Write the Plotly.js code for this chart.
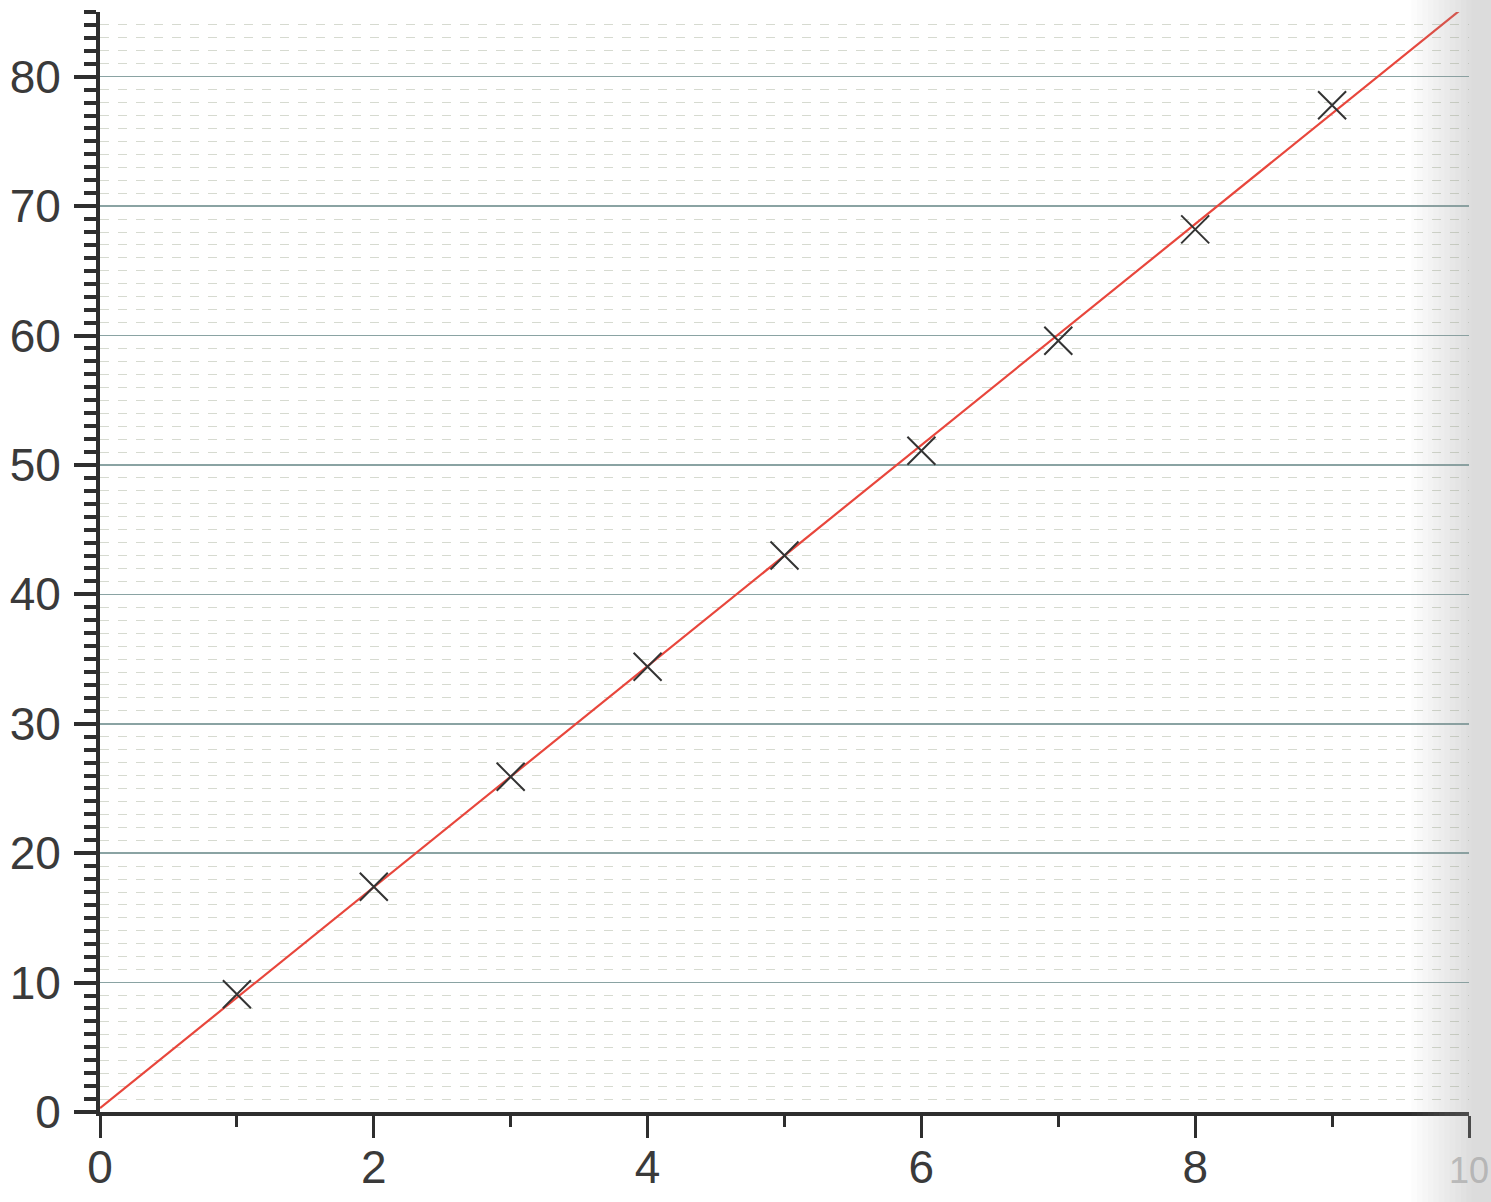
<!DOCTYPE html>
<html>
<head>
<meta charset="utf-8">
<script src="https://cdn.plot.ly/plotly-3.0.1.min.js"></script>
<style>
html,body{margin:0;padding:0;background:#fff;}
#chart{width:1491px;height:1202px;}
</style>
</head>
<body>
<div id="chart"></div>
<script>
// Measured points
const xPoints = [1, 2, 3, 4, 5, 6, 7, 8, 9];
const yPoints = [9.1, 17.4, 25.9, 34.4, 43.0, 51.1, 59.6, 68.2, 77.8];
// Fitted line endpoints
const lineX = [0, 9.93];
const lineY = [0.3, 85.1];
// Tick labels
const xTickVals = [0, 2, 4, 6, 8, 10];
const xTickText = ['0', '2', '4', '6', '8', '<span style="color:#c4c4c4;font-size:36px">10</span>'];
const yTickVals = [0, 10, 20, 30, 40, 50, 60, 70, 80];

const axisColor = '#2e2e2e';
const fontSpec = {family: 'Liberation Sans, Arial, sans-serif', size: 46, color: '#3a3a3a'};

const traces = [
  {
    x: lineX, y: lineY, mode: 'lines', type: 'scatter',
    line: {color: '#e8463c', width: 2.2},
    hoverinfo: 'skip', showlegend: false, cliponaxis: true
  },
  {
    x: xPoints, y: yPoints, mode: 'markers', type: 'scatter',
    marker: {symbol: 'x-thin-open', size: 28, color: '#333333', line: {color: '#333333', width: 2}},
    showlegend: false, cliponaxis: false
  }
];

// scanner shadow on the right edge
const shadow = [];
const steps = 12;
for (let i = 0; i < steps; i++) {
  shadow.push({
    type: 'rect', xref: 'paper', yref: 'paper', layer: 'above',
    x0: 0.958 + i * 0.004, x1: 1.03, y0: -0.12, y1: 1.02,
    fillcolor: 'rgba(150,150,155,0.03)', line: {width: 0}
  });
}

const layout = {
  width: 1491, height: 1202,
  margin: {l: 100, r: 22, t: 12, b: 90, pad: 0},
  paper_bgcolor: '#ffffff', plot_bgcolor: '#ffffff',
  font: fontSpec,
  showlegend: false,
  xaxis: {
    range: [0, 10], tickvals: xTickVals, ticktext: xTickText,
    ticks: 'outside', ticklen: 22, tickwidth: 3, tickcolor: axisColor,
    showline: true, linecolor: axisColor, linewidth: 4,
    showgrid: false, zeroline: false, tickfont: fontSpec, ticklabelstandoff: -10,
    ticklabeloverflow: 'allow',
    minor: {dtick: 1, tick0: 0, ticks: 'outside', ticklen: 11, tickwidth: 3, tickcolor: axisColor, showgrid: false}
  },
  yaxis: {
    range: [0, 85], tickvals: yTickVals,
    ticks: 'outside', ticklen: 22, tickwidth: 4, tickcolor: axisColor,
    showline: true, linecolor: axisColor, linewidth: 4,
    showgrid: true, gridcolor: '#8aa3a3', gridwidth: 1.5,
    zeroline: false, tickfont: fontSpec, ticklabelstandoff: 4,
    minor: {dtick: 1, tick0: 0, ticks: 'outside', ticklen: 12, tickwidth: 4, tickcolor: axisColor,
            showgrid: true, gridcolor: '#d6dad0', griddash: 'dash', gridwidth: 1}
  },
  shapes: shadow
};

Plotly.newPlot('chart', traces, layout, {displayModeBar: false, staticPlot: true});
</script>
</body>
</html>
